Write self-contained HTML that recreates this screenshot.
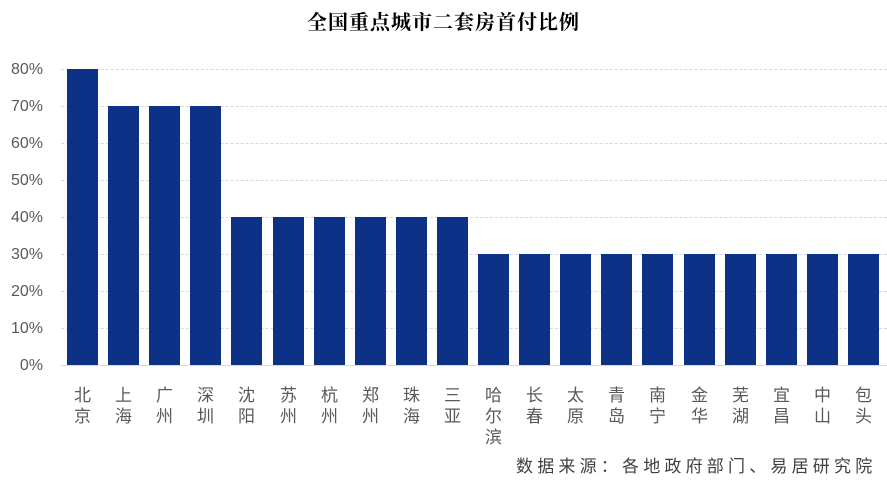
<!DOCTYPE html>
<html><head><meta charset="utf-8"><style>
body{margin:0;width:887px;height:481px;background:#fff;overflow:hidden;position:relative;font-family:"Liberation Sans","Noto Sans CJK SC",sans-serif}
.t{position:absolute;left:0;width:887px;top:6px;text-align:center;font-family:"Liberation Serif","Noto Serif CJK SC",serif;font-weight:bold;font-size:20px;letter-spacing:1px;color:#000}
.g{position:absolute;left:61px;width:826px;border-top:1px dashed #d9d9d9;height:0}
.yl{position:absolute;left:0;width:43px;text-align:right;font-size:16px;color:#595959}
.b{position:absolute;width:31px;background:#0d3187}
.xl{position:absolute;width:31px;text-align:center;top:385px;font-size:17px;line-height:21px;color:#595959}
.s{position:absolute;left:516px;top:452px;font-size:17px;letter-spacing:4.2px;white-space:nowrap;color:#404040}
</style></head><body>
<div class="t">全国重点城市二套房首付比例</div>
<div id="c"></div>
<div class="s">数据来源：各地政府部门、易居研究院</div>
<script>
var c=document.getElementById('c'),h='';
for(var i=0;i<=8;i++){var y=365-i*36.94;
h+='<div class="g" style="top:'+Math.round(y)+'px;'+(i==0?'border-top:1px solid #d9d9d9':'')+'"></div>';
h+='<div class="yl" style="top:'+(Math.round(y)-8)+'px">'+(i*10)+'%</div>';}
var n=['北京','上海','广州','深圳','沈阳','苏州','杭州','郑州','珠海','三亚','哈尔滨','长春','太原','青岛','南宁','金华','芜湖','宜昌','中山','包头'];
var v=[80,70,70,70,40,40,40,40,40,40,30,30,30,30,30,30,30,30,30,30];
for(var i=0;i<20;i++){var x=Math.round(67+i*41.1),t=365-v[i]*3.694;
h+='<div class="b" style="left:'+x+'px;top:'+Math.round(t)+'px;height:'+Math.round(365-t)+'px"></div>';
h+='<div class="xl" style="left:'+x+'px">'+n[i].split('').join('<br>')+'</div>';}
c.innerHTML=h;
</script>
</body></html>
